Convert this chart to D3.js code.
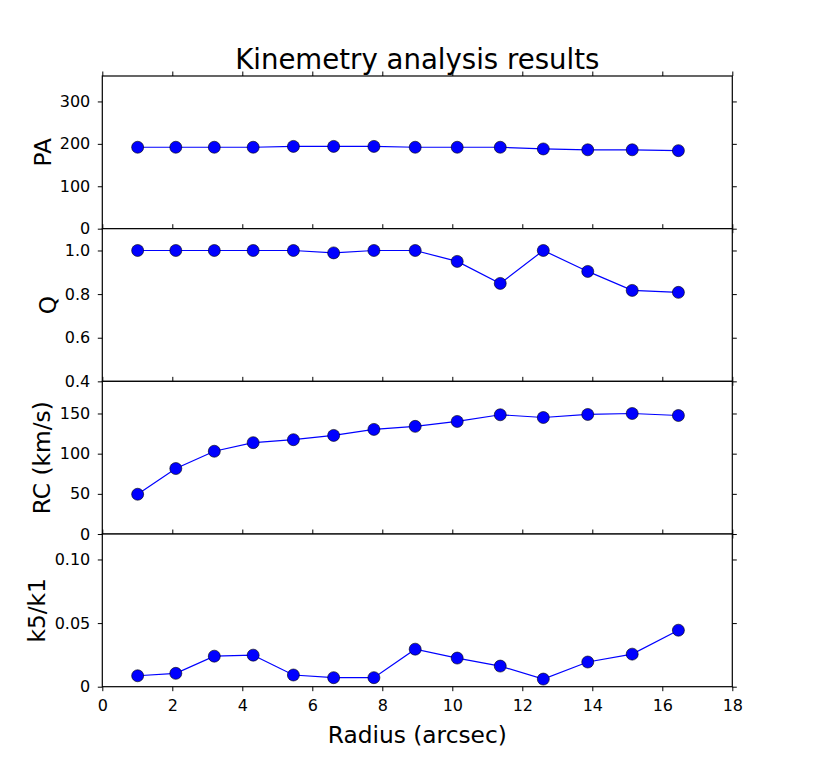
<!DOCTYPE html>
<html>
<head>
<meta charset="utf-8">
<script src="https://d3js.org/d3.v7.min.js"></script>
<style>
  body { margin: 0; padding: 0; background: #fff; }
  svg { display: block; font-family: "DejaVu Sans", sans-serif; }
</style>
</head>
<body>
<div id="my_dataviz"></div>
<script>
// radius of each ellipse (arcsec)
var radius = [1.01, 2.10, 3.20, 4.31, 5.46, 6.61, 7.76, 8.94, 10.14, 11.37, 12.60, 13.87, 15.14, 16.46];

// series
var pa   = [192, 192, 192, 192, 194, 194, 194, 192, 192, 192, 188, 186, 186, 184];
var q    = [1.0, 1.0, 1.0, 1.0, 1.0, 0.989, 1.0, 1.0, 0.95, 0.849, 1.0, 0.904, 0.817, 0.808];
var rc   = [49.5, 81.5, 103, 113.7, 117.4, 122.7, 130.2, 134, 140.1, 148.4, 145, 148.8, 150, 147.5];
var k5k1 = [0.0086, 0.0105, 0.024, 0.0248, 0.0092, 0.0071, 0.0071, 0.0295, 0.0225, 0.0162, 0.006, 0.0194, 0.0256, 0.0444];

// tick values
var xTicks  = [0, 2, 4, 6, 8, 10, 12, 14, 16, 18];
var paTicks = [0, 100, 200, 300];
var qTicks  = [0.4, 0.6, 0.8, 1.0];
var rcTicks = [0, 50, 100, 150];
var kTicks  = [0, 0.05, 0.10];

var panels = [
  { label: "PA",        values: pa,   domain: [0, 360],   ticks: paTicks, fmt: d3.format("d"),   labelX: 51 },
  { label: "Q",         values: q,    domain: [0.4, 1.1], ticks: qTicks,  fmt: d3.format(".1f"), labelX: 55.5 },
  { label: "RC (km/s)", values: rc,   domain: [0, 190],   ticks: rcTicks, fmt: d3.format("d"),   labelX: 49.5 },
  { label: "k5/k1",     values: k5k1, domain: [0, 0.12],  ticks: kTicks,  fmt: function (d) { return d === 0 ? "0" : d3.format(".2f")(d); }, labelX: 44.5 }
];

// plot box (note: "top" is a reserved window property, so use a margin object)
var W = 813, H = 763;
var box = { left: 102.3, right: 732.3, top: 76, bottom: 686.7 };
var ph = (box.bottom - box.top) / panels.length;
var tickLen = 4.5;

var svg = d3.select("#my_dataviz")
  .append("svg")
  .attr("width", W)
  .attr("height", H);

var x = d3.scaleLinear().domain([0, 18]).range([box.left, box.right]);

panels.forEach(function (p, i) {
  var y0 = box.top + i * ph, y1 = y0 + ph;
  var y = d3.scaleLinear().domain(p.domain).range([y1, y0]);
  var g = svg.append("g");

  // white face hides the bottom ticks of the panel above
  g.append("rect")
    .attr("x", box.left).attr("y", y0)
    .attr("width", box.right - box.left).attr("height", ph)
    .attr("fill", "#fff");

  // ticks, pointing outwards on every side
  var ax = [
    g.append("g").attr("transform", "translate(0," + y1 + ")")
      .call(d3.axisBottom(x).tickValues(xTicks).tickSize(tickLen).tickSizeOuter(0).tickPadding(8.5)
        .tickFormat(i === panels.length - 1 ? d3.format("d") : "")),
    g.append("g").attr("transform", "translate(0," + y0 + ")")
      .call(d3.axisTop(x).tickValues(xTicks).tickSize(tickLen).tickSizeOuter(0).tickFormat("")),
    g.append("g").attr("transform", "translate(" + box.left + ",0)")
      .call(d3.axisLeft(y).tickValues(p.ticks).tickSize(tickLen).tickSizeOuter(0).tickPadding(7.5).tickFormat(p.fmt)),
    g.append("g").attr("transform", "translate(" + box.right + ",0)")
      .call(d3.axisRight(y).tickValues(p.ticks).tickSize(tickLen).tickSizeOuter(0).tickFormat(""))
  ];
  ax.forEach(function (a) {
    a.select(".domain").remove();
    a.selectAll("line").attr("stroke", "#000").attr("stroke-width", 1);
    a.selectAll("text").attr("fill", "#000")
      .style("font-family", "'DejaVu Sans', sans-serif").style("font-size", "16px");
  });

  // data line and markers
  var pts = radius.map(function (r, k) { return [r, p.values[k]]; });
  g.append("path")
    .datum(pts)
    .attr("fill", "none")
    .attr("stroke", "#0000ff")
    .attr("stroke-width", 1.2)
    .attr("d", d3.line().x(function (d) { return x(d[0]); }).y(function (d) { return y(d[1]); }));

  g.selectAll("circle")
    .data(pts)
    .enter()
    .append("circle")
    .attr("cx", function (d) { return x(d[0]); })
    .attr("cy", function (d) { return y(d[1]); })
    .attr("r", 6)
    .attr("fill", "#0000ff")
    .attr("stroke", "#000")
    .attr("stroke-width", 0.6);

  // frame
  g.append("rect")
    .attr("x", box.left).attr("y", y0)
    .attr("width", box.right - box.left).attr("height", ph)
    .attr("fill", "none")
    .attr("stroke", "#000")
    .attr("stroke-width", 1.2);

  // y label
  g.append("text")
    .attr("transform", "translate(" + p.labelX + "," + ((y0 + y1) / 2) + ") rotate(-90)")
    .attr("text-anchor", "middle")
    .style("font-size", "23.3px")
    .text(p.label);
});

// title
svg.append("text")
  .attr("x", (box.left + box.right) / 2)
  .attr("y", 68.5)
  .attr("text-anchor", "middle")
  .style("font-size", "27.6px")
  .text("Kinemetry analysis results");

// x label
svg.append("text")
  .attr("x", (box.left + box.right) / 2)
  .attr("y", 742.5)
  .attr("text-anchor", "middle")
  .style("font-size", "23.3px")
  .text("Radius (arcsec)");
</script>
</body>
</html>
